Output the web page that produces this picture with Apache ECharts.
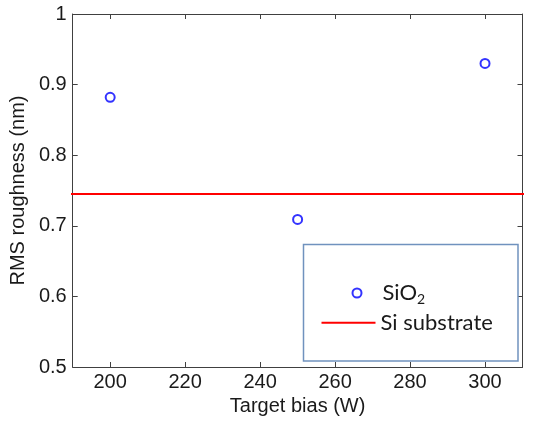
<!DOCTYPE html>
<html>
<head>
<meta charset="utf-8">
<script src="https://cdn.jsdelivr.net/npm/echarts@6/dist/echarts.min.js"></script>
<style>
html,body{margin:0;padding:0;background:#fff;}
#chart{width:544px;height:422px;}
</style>
</head>
<body>
<div id="chart"></div>
<script>
// ---- data ----
const biasW = [200, 250, 300];
const sio2Rms = [0.882, 0.709, 0.930];
const siSubstrateRms = 0.745;
const siLineX = [187, 318];
const xTickValues = [200, 220, 240, 260, 280, 300];
const yTickValues = [0.5, 0.6, 0.7, 0.8, 0.9, 1];
const xLabel = 'Target bias (W)';
const yLabel = 'RMS roughness (nm)';
const seriesNames = ['SiO2', 'Si substrate'];

const sio2Data = biasW.map((x, i) => [x, sio2Rms[i]]);
const siData = siLineX.map(x => [x, siSubstrateRms]);

const axisColor = '#404040';
const textColor = '#1a1a1a';
const tickFont = 'Liberation Sans';

const chart = echarts.init(document.getElementById('chart'), null, {renderer: 'canvas'});

const xBase = {
  type: 'value', min: 190, max: 310,
  axisLine: {show: true, onZero: false, lineStyle: {color: axisColor, width: 1}},
  splitLine: {show: false},
  axisTick: {show: true, inside: true, length: 5, customValues: xTickValues, lineStyle: {color: axisColor}}
};
const yBase = {
  type: 'value', min: 0.5, max: 1, interval: 0.1,
  axisLine: {show: true, onZero: false, lineStyle: {color: axisColor, width: 1}},
  splitLine: {show: false},
  axisTick: {show: true, inside: true, length: 5, lineStyle: {color: axisColor}}
};

chart.setOption({
  animation: false,
  backgroundColor: '#fff',
  grid: {left: 70, right: 21.5, top: 14, bottom: 55, containLabel: false},
  xAxis: [
    Object.assign({}, xBase, {
      position: 'bottom',
      name: xLabel, nameLocation: 'middle', nameGap: 26,
      nameTextStyle: {fontFamily: tickFont, fontSize: 20, color: textColor},
      axisLabel: {show: true, margin: 5, customValues: xTickValues, fontFamily: tickFont, fontSize: 20, color: textColor}
    }),
    Object.assign({}, xBase, {position: 'top', axisLabel: {show: false}})
  ],
  yAxis: [
    Object.assign({}, yBase, {
      position: 'left',
      name: yLabel, nameLocation: 'middle', nameGap: 38,
      nameTextStyle: {fontFamily: tickFont, fontSize: 20, color: textColor},
      axisLabel: {show: true, margin: 6, fontFamily: tickFont, fontSize: 20, color: textColor,
        formatter: v => String(+v.toFixed(1))}
    }),
    Object.assign({}, yBase, {position: 'right', axisLabel: {show: false}})
  ],
  graphic: [{
    type: 'rect', z: 20,
    shape: {x: 303.5, y: 244.5, width: 214.5, height: 116.5},
    style: {fill: '#ffffff', stroke: '#7092be', lineWidth: 1.5}
  }],
  legend: [
    {
      data: [seriesNames[0]], orient: 'vertical', left: 351.5, top: 280, z: 30,
      padding: 0, itemWidth: 41, itemHeight: 9, symbolKeepAspect: true,
      formatter: () => 'SiO{s|2}',
      textStyle: {fontFamily: 'Lato', fontSize: 22, lineHeight: 26, color: textColor,
        rich: {s: {fontFamily: 'Lato', fontSize: 14, lineHeight: 26, padding: [12, 0, 0, 0], color: textColor}}}
    },
    {
      data: [{name: seriesNames[1], icon: 'rect'}], orient: 'vertical', left: 321.5, top: 309.7, z: 30,
      padding: 0, itemWidth: 54, itemHeight: 2,
      textStyle: {fontFamily: 'Lato', fontSize: 22, lineHeight: 26, color: textColor}
    }
  ],
  series: [
    {
      name: seriesNames[0], type: 'scatter', xAxisIndex: 0, yAxisIndex: 0,
      data: sio2Data, symbol: 'emptyCircle', symbolSize: 9,
      itemStyle: {color: '#0000ff', borderColor: '#0000ff', borderWidth: 2.2}, z: 3
    },
    {
      name: seriesNames[1], type: 'line', xAxisIndex: 0, yAxisIndex: 0,
      data: siData, showSymbol: false, symbol: 'none', clip: false,
      lineStyle: {color: '#ff0000', width: 2}, itemStyle: {color: '#ff0000'}, z: 2
    }
  ]
});
</script>
</body>
</html>
